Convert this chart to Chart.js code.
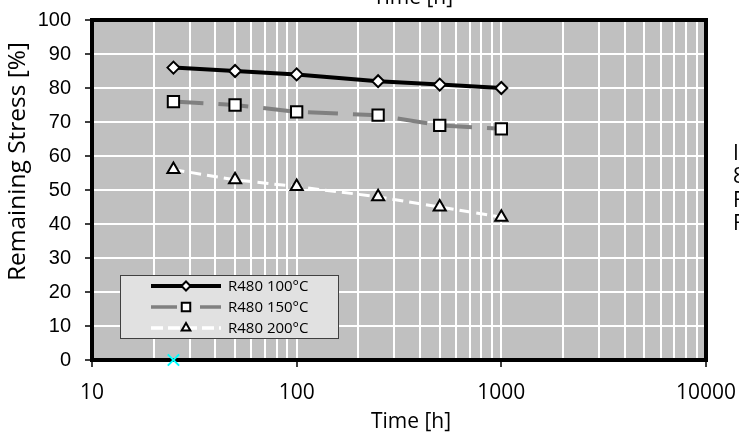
<!DOCTYPE html>
<html>
<head>
<meta charset="utf-8">
<script src="https://cdn.jsdelivr.net/npm/chart.js@4.4.0/dist/chart.umd.min.js"></script>
<style>
  html, body { margin: 0; padding: 0; background: #fff; }
  #wrap { width: 739px; height: 434px; }
</style>
</head>
<body>
<div id="wrap"><canvas id="chart" width="739" height="434"></canvas></div>
<script>
// values
const times = [25, 50, 100, 250, 500, 1000];
const stress100 = [86, 85, 84, 82, 81, 80];
const stress150 = [76, 75, 73, 72, 69, 68];
const stress200 = [56, 53, 51, 48, 45, 42];
const seriesLabels = ['R480 100°C', 'R480 150°C', 'R480 200°C'];
const markerTimes = [25];
const markerStress = [0];
const xDecades = [10, 100, 1000, 10000];
const xSteps = [1, 2, 3, 4, 5, 6, 7, 8, 9];
const yTicks = [0, 10, 20, 30, 40, 50, 60, 70, 80, 90, 100];
const xTitle = 'Time [h]';
const yTitle = 'Remaining Stress [%]';
const sideNotes = ['I', '8', 'F', 'F'];

const CAL = "'Open Sans', 'DejaVu Sans', sans-serif";

// log grid: 10,20..90,100,200..10000
const xGrid = [];
xDecades.slice(0, -1).forEach(d => xSteps.forEach(s => xGrid.push(d * s)));
xGrid.push(xDecades[xDecades.length - 1]);

const toPoints = (xs, ys) => xs.map((x, i) => ({ x, y: ys[i] }));

// gray plot area, thick black frame, titles, hand drawn legend
const excelLook = {
  id: 'excelLook',
  beforeDraw(chart) {
    const { ctx, chartArea: a } = chart;
    ctx.save();
    ctx.fillStyle = '#c0c0c0';
    ctx.fillRect(a.left, a.top, a.right - a.left, a.bottom - a.top);
    ctx.restore();
  },
  beforeDatasetsDraw(chart) {
    const { ctx, chartArea: a } = chart;
    ctx.save();
    ctx.strokeStyle = '#000';
    ctx.lineWidth = 4;
    ctx.strokeRect(a.left, a.top, a.right - a.left, a.bottom - a.top);
    ctx.restore();
  },
  afterDraw(chart) {
    const { ctx } = chart;
    ctx.save();
    ctx.fillStyle = '#000';

    // axis titles
    ctx.font = '21px ' + CAL;
    ctx.textAlign = 'center';
    ctx.textBaseline = 'alphabetic';
    ctx.fillText(xTitle, 411, 428);
    ctx.fillText(xTitle, 413, 4);

    ctx.save();
    ctx.translate(25, 161.5);
    ctx.rotate(-Math.PI / 2);
    ctx.font = '24.5px ' + CAL;
    ctx.fillText(yTitle, 0, 0);
    ctx.restore();

    // clipped notes on the right edge
    ctx.textAlign = 'left';
    ctx.font = '21px ' + CAL;
    sideNotes.forEach((t, i) => ctx.fillText(t, 733, 160 + i * 23.4));

    // legend box
    const lx = 120, ly = 275, lw = 218, lh = 63;
    ctx.fillStyle = '#e1e1e1';
    ctx.fillRect(lx, ly, lw, lh);
    ctx.strokeStyle = '#404040';
    ctx.lineWidth = 1;
    ctx.strokeRect(lx + 0.5, ly + 0.5, lw, lh);

    const rows = [286, 307, 328];
    const sx0 = 151, sx1 = 221, mx = 186;
    chart.data.datasets.slice(0, 3).forEach((ds, i) => {
      const y = rows[i];
      ctx.save();
      ctx.strokeStyle = ds.borderColor;
      ctx.lineWidth = i === 0 ? 4 : 3.5;
      ctx.lineCap = 'butt';
      ctx.setLineDash(i === 1 ? [26, 23] : i === 2 ? [12, 5] : []);
      ctx.beginPath();
      ctx.moveTo(sx0, y);
      ctx.lineTo(sx1, y);
      ctx.stroke();
      ctx.restore();

      ctx.save();
      ctx.fillStyle = '#ffffff';
      ctx.strokeStyle = '#000000';
      ctx.lineWidth = 2;
      Chart.helpers.drawPoint(ctx, {
        pointStyle: ds.pointStyle,
        radius: [4.5, 6, 5][i],
        borderWidth: 2,
        rotation: 0
      }, mx, y);
      ctx.restore();

      ctx.fillStyle = '#000';
      ctx.font = '15px ' + CAL;
      ctx.textAlign = 'left';
      ctx.textBaseline = 'middle';
      ctx.fillText(ds.label, 228, y + 1);
    });
    ctx.restore();
  }
};

const ctx = document.getElementById('chart').getContext('2d');

new Chart(ctx, {
  type: 'line',
  data: {
    datasets: [
      {
        label: seriesLabels[0],
        data: toPoints(times, stress100),
        borderColor: '#000000',
        borderWidth: 4,
        pointStyle: 'rectRot',
        pointRadius: 6,
        pointBorderWidth: 2,
        pointBackgroundColor: '#ffffff',
        pointBorderColor: '#000000'
      },
      {
        label: seriesLabels[1],
        data: toPoints(times, stress150),
        borderColor: '#808080',
        borderWidth: 4,
        borderDash: [30, 15],
        pointStyle: 'rect',
        pointRadius: 8,
        pointBorderWidth: 2,
        pointBackgroundColor: '#ffffff',
        pointBorderColor: '#000000'
      },
      {
        label: seriesLabels[2],
        data: toPoints(times, stress200),
        borderColor: '#ffffff',
        borderWidth: 3,
        borderDash: [11, 6],
        pointStyle: 'triangle',
        pointRadius: 7,
        pointBorderWidth: 2,
        pointBackgroundColor: '#ffffff',
        pointBorderColor: '#000000'
      },
      {
        label: 'marker',
        data: toPoints(markerTimes, markerStress),
        showLine: false,
        clip: false,
        pointStyle: 'crossRot',
        pointRadius: 8,
        pointBorderWidth: 2,
        pointBorderColor: '#00ffff',
        borderColor: '#00ffff'
      }
    ]
  },
  options: {
    responsive: false,
    animation: false,
    layout: { padding: { top: 20, right: 33, left: 0, bottom: 0 } },
    plugins: {
      legend: { display: false },
      tooltip: { enabled: false }
    },
    elements: { line: { tension: 0 } },
    scales: {
      x: {
        type: 'logarithmic',
        min: 10,
        max: 10000,
        border: { display: false },
        afterBuildTicks: (scale) => {
          scale.ticks = xGrid.map(v => ({ value: v, major: xDecades.includes(v) }));
        },
        afterFit: (scale) => {
          scale.height = 74;
          scale.paddingLeft = 0;
          scale.paddingRight = 0;
        },
        grid: {
          color: '#ffffff',
          lineWidth: 2,
          tickLength: 7,
          tickWidth: 1.5,
          tickColor: (c) => (c.tick && xDecades.includes(c.tick.value)) ? '#000000' : 'rgba(0,0,0,0)'
        },
        ticks: {
          autoSkip: false,
          maxRotation: 0,
          padding: 13,
          color: '#000',
          font: { family: CAL, size: 21 },
          callback: (v) => xDecades.includes(v) ? String(v) : ''
        }
      },
      y: {
        min: 0,
        max: 100,
        border: { display: false },
        afterBuildTicks: (scale) => {
          scale.ticks = yTicks.map(v => ({ value: v }));
        },
        afterFit: (scale) => {
          scale.width = 92;
          scale.paddingTop = 0;
          scale.paddingBottom = 0;
        },
        grid: {
          color: '#ffffff',
          lineWidth: 2,
          tickLength: 7,
          tickWidth: 1.5,
          tickColor: '#000000'
        },
        ticks: {
          padding: 14,
          color: '#000',
          font: { family: "'Liberation Sans', Arial, sans-serif", size: 20 }
        }
      }
    }
  },
  plugins: [excelLook]
});
</script>
</body>
</html>
